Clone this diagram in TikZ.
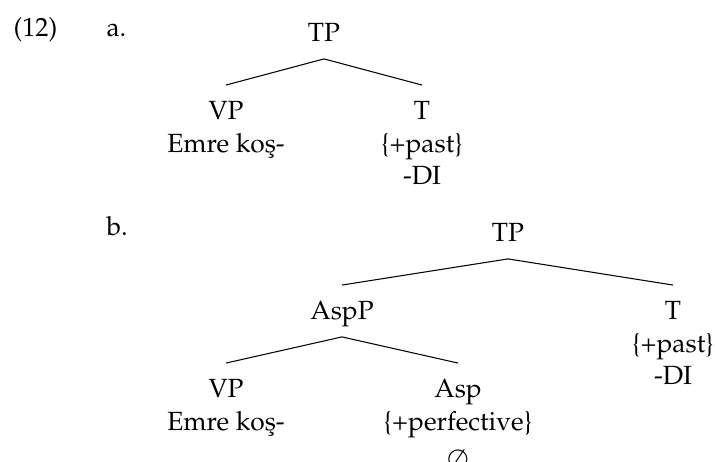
\documentclass[tikz,border=0pt]{standalone}
\usepackage[T1]{fontenc}
\usepackage{mathpazo}
\begin{document}
\begin{tikzpicture}[x=0.38pt,y=-0.38pt,
  lbl/.style={inner sep=0pt, anchor=base, font=\fontsize{10}{12.35}\selectfont},
  edge/.style={line width=0.4pt}]
\useasboundingbox (0,0) rectangle (715,461);
% example labels
\node[lbl, anchor=base west] (ex) at (13,36) {(12)};
\node[lbl, anchor=base west] (la) at (106,36) {a.};
\node[lbl, anchor=base west] (lb) at (106,235) {b.};
% tree a
\node[lbl] (tpa) at (324,41) {TP};
\node[lbl] (vpa) at (226,119) {VP};
\node[lbl] (vpaw) at (226,152) {Emre ko\c{s}-};
\node[lbl] (ta) at (422,119) {T};
\node[lbl] (taf) at (422,152) {\{+past\}};
\node[lbl] (tam) at (422,184) {-DI};
\draw[edge] ([yshift=-6.8pt]tpa.base) -- ([yshift=12.9pt]vpa.base);
\draw[edge] ([yshift=-6.8pt]tpa.base) -- ([yshift=12.9pt]ta.base);
% tree b
\node[lbl] (tpb) at (508,241) {TP};
\node[lbl] (aspp) at (342,319) {AspP};
\node[lbl] (tb) at (673,319) {T};
\node[lbl] (tbf) at (673,352) {\{+past\}};
\node[lbl] (tbm) at (673,384) {-DI};
\node[lbl] (vpb) at (226,397) {VP};
\node[lbl] (vpbw) at (226,430) {Emre ko\c{s}-};
\node[lbl] (asp) at (458,397) {Asp};
\node[lbl] (aspf) at (458,430) {\{+perfective\}};
\node[lbl] (aspm) at (458,468) {$\emptyset$};
\draw[edge] ([yshift=-6.8pt]tpb.base) -- ([yshift=12.9pt]aspp.base);
\draw[edge] ([yshift=-6.8pt]tpb.base) -- ([yshift=12.9pt]tb.base);
\draw[edge] ([yshift=-6.8pt]aspp.base) -- ([yshift=12.9pt]vpb.base);
\draw[edge] ([yshift=-6.8pt]aspp.base) -- ([yshift=12.9pt]asp.base);
\end{tikzpicture}
\end{document}
